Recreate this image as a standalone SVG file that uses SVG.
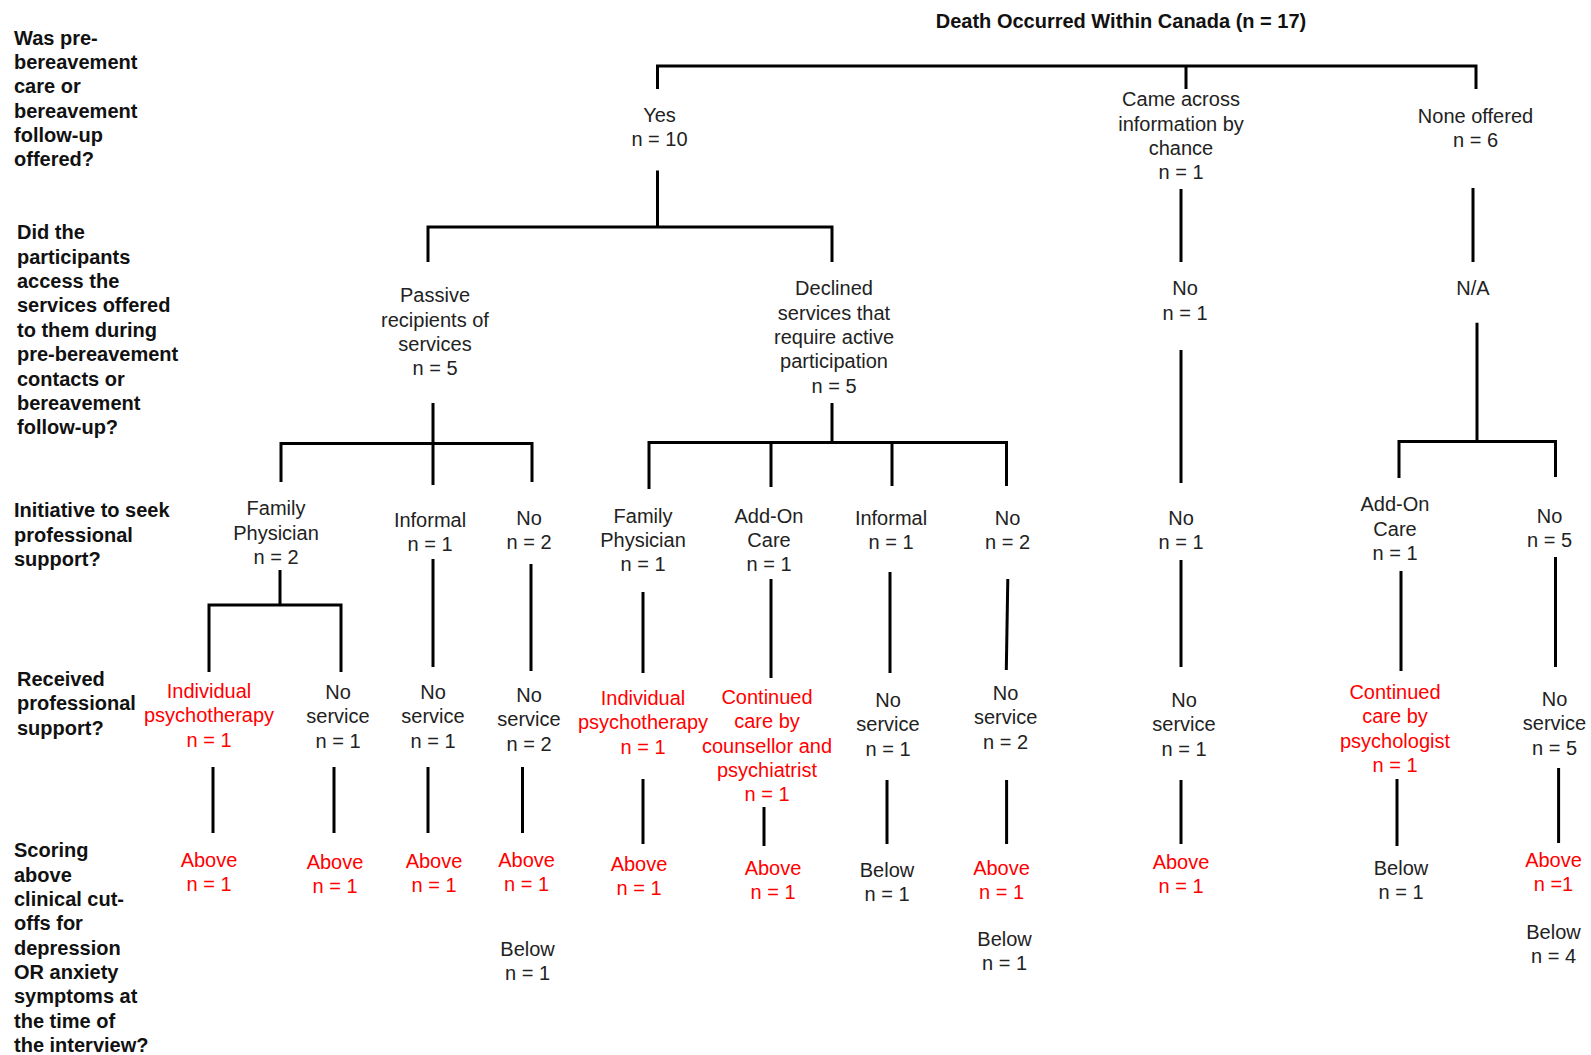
<svg xmlns="http://www.w3.org/2000/svg" width="1591" height="1055" viewBox="0 0 1591 1055">
<style>
.h{font-family:"Liberation Sans",Arial,sans-serif;font-size:20px;font-weight:bold;fill:#111}
.t{font-family:"Liberation Sans",Arial,sans-serif;font-size:20px;fill:#222;text-anchor:middle}
.r{fill:#ff0000}
.c path{stroke:#000;stroke-width:3;fill:none}
</style>
<rect width="1591" height="1055" fill="#fff"/>
<g id="title"><text class="h" x="1121" y="27.5" text-anchor="middle">Death Occurred Within Canada (n = 17)</text></g>
<g id="q1"><text class="h" x="14" y="44.5"><tspan x="14">Was pre-</tspan><tspan x="14" dy="24.35">bereavement</tspan><tspan x="14" dy="24.35">care or</tspan><tspan x="14" dy="24.35">bereavement</tspan><tspan x="14" dy="24.35">follow-up</tspan><tspan x="14" dy="24.35">offered?</tspan></text></g>
<g id="q2"><text class="h" x="17" y="239.4"><tspan x="17">Did the</tspan><tspan x="17" dy="24.35">participants</tspan><tspan x="17" dy="24.35">access the</tspan><tspan x="17" dy="24.35">services offered</tspan><tspan x="17" dy="24.35">to them during</tspan><tspan x="17" dy="24.35">pre-bereavement</tspan><tspan x="17" dy="24.35">contacts or</tspan><tspan x="17" dy="24.35">bereavement</tspan><tspan x="17" dy="24.35">follow-up?</tspan></text></g>
<g id="q3"><text class="h" x="14" y="517.4"><tspan x="14">Initiative to seek</tspan><tspan x="14" dy="24.35">professional</tspan><tspan x="14" dy="24.35">support?</tspan></text></g>
<g id="q4"><text class="h" x="17" y="685.8"><tspan x="17">Received</tspan><tspan x="17" dy="24.35">professional</tspan><tspan x="17" dy="24.35">support?</tspan></text></g>
<g id="q5"><text class="h" x="14" y="857.3"><tspan x="14">Scoring</tspan><tspan x="14" dy="24.35">above</tspan><tspan x="14" dy="24.35">clinical cut-</tspan><tspan x="14" dy="24.35">offs for</tspan><tspan x="14" dy="24.35">depression</tspan><tspan x="14" dy="24.35">OR anxiety</tspan><tspan x="14" dy="24.35">symptoms at</tspan><tspan x="14" dy="24.35">the time of</tspan><tspan x="14" dy="24.35">the interview?</tspan></text></g>

<g class="c" id="connectors">
<path d="M657.5,89 V66 H1476 V89 M1186,66 V89"/>
<path d="M657.5,170.5 V227 M428,262 V227 H832 V262"/>
<path d="M433,403 V443.5 M281,482 V443.5 H532 V482 M433,443.5 V485"/>
<path d="M832,403 V442.5 M649,489 V442.5 H1006.5 V486 M771,442.5 V487 M892,442.5 V486"/>
<path d="M1181,189 V262 M1181,350 V483 M1181,560 V667 M1181,780 V844"/>
<path d="M1473,188 V262 M1477,322.7 V441.4 M1399,478 V441.4 H1555.5 V477"/>
<path d="M1401,571 V671 M1397,779 V846 M1555.5,557 V667 M1558.6,768 V843"/>
<path d="M280,570 V605 M209,672 V605 H341 V672 M213,767 V833 M334,767 V833"/>
<path d="M433,559 V667 M428,767 V833 M531,564 V671 M522.5,767 V833"/>
<path d="M643,592 V673 M643,779 V844 M771,579 V678 M764,807 V846"/>
<path d="M890,572 V673 M887,780 V844 M1007.8,579 L1006.3,670 M1006.6,780 V844"/>
</g>

<g id="yes"><text class="t" x="659.5" y="121.7"><tspan x="659.5">Yes</tspan><tspan x="659.5" dy="24.35">n = 10</tspan></text></g>
<g id="came"><text class="t" x="1181" y="106.4"><tspan x="1181">Came across</tspan><tspan x="1181" dy="24.35">information by</tspan><tspan x="1181" dy="24.35">chance</tspan><tspan x="1181" dy="24.35">n = 1</tspan></text></g>
<g id="none"><text class="t" x="1475.5" y="122.7"><tspan x="1475.5">None offered</tspan><tspan x="1475.5" dy="24.35">n = 6</tspan></text></g>
<g id="passive"><text class="t" x="435" y="302.3"><tspan x="435">Passive</tspan><tspan x="435" dy="24.35">recipients of</tspan><tspan x="435" dy="24.35">services</tspan><tspan x="435" dy="24.35">n = 5</tspan></text></g>
<g id="declined"><text class="t" x="834" y="295.2"><tspan x="834">Declined</tspan><tspan x="834" dy="24.35">services that</tspan><tspan x="834" dy="24.35">require active</tspan><tspan x="834" dy="24.35">participation</tspan><tspan x="834" dy="24.35">n = 5</tspan></text></g>
<g id="no-came"><text class="t" x="1185" y="295.2"><tspan x="1185">No</tspan><tspan x="1185" dy="24.35">n = 1</tspan></text></g>
<g id="na"><text class="t" x="1473" y="295.2">N/A</text></g>

<g id="fp2"><text class="t" x="276" y="515.4"><tspan x="276">Family</tspan><tspan x="276" dy="24.35">Physician</tspan><tspan x="276" dy="24.35">n = 2</tspan></text></g>
<g id="inf1a"><text class="t" x="430" y="526.5"><tspan x="430">Informal</tspan><tspan x="430" dy="24.35">n = 1</tspan></text></g>
<g id="no2a"><text class="t" x="529" y="524.5"><tspan x="529">No</tspan><tspan x="529" dy="24.35">n = 2</tspan></text></g>
<g id="fp1"><text class="t" x="643" y="522.5"><tspan x="643">Family</tspan><tspan x="643" dy="24.35">Physician</tspan><tspan x="643" dy="24.35">n = 1</tspan></text></g>
<g id="addon1"><text class="t" x="769" y="522.5"><tspan x="769">Add-On</tspan><tspan x="769" dy="24.35">Care</tspan><tspan x="769" dy="24.35">n = 1</tspan></text></g>
<g id="inf1b"><text class="t" x="891" y="524.5"><tspan x="891">Informal</tspan><tspan x="891" dy="24.35">n = 1</tspan></text></g>
<g id="no2b"><text class="t" x="1007.6" y="524.5"><tspan x="1007.6">No</tspan><tspan x="1007.6" dy="24.35">n = 2</tspan></text></g>
<g id="no1c"><text class="t" x="1181" y="524.5"><tspan x="1181">No</tspan><tspan x="1181" dy="24.35">n = 1</tspan></text></g>
<g id="addon2"><text class="t" x="1395" y="511.3"><tspan x="1395">Add-On</tspan><tspan x="1395" dy="24.35">Care</tspan><tspan x="1395" dy="24.35">n = 1</tspan></text></g>
<g id="no5"><text class="t" x="1549.5" y="522.5"><tspan x="1549.5">No</tspan><tspan x="1549.5" dy="24.35">n = 5</tspan></text></g>

<g id="indiv1"><text class="t r" x="209" y="698"><tspan x="209">Individual</tspan><tspan x="209" dy="24.35">psychotherapy</tspan><tspan x="209" dy="24.35">n = 1</tspan></text></g>
<g id="nos1a"><text class="t" x="338" y="699"><tspan x="338">No</tspan><tspan x="338" dy="24.35">service</tspan><tspan x="338" dy="24.35">n = 1</tspan></text></g>
<g id="nos1b"><text class="t" x="433" y="699"><tspan x="433">No</tspan><tspan x="433" dy="24.35">service</tspan><tspan x="433" dy="24.35">n = 1</tspan></text></g>
<g id="nos2a"><text class="t" x="529" y="702"><tspan x="529">No</tspan><tspan x="529" dy="24.35">service</tspan><tspan x="529" dy="24.35">n = 2</tspan></text></g>
<g id="indiv2"><text class="t r" x="643" y="705"><tspan x="643">Individual</tspan><tspan x="643" dy="24.35">psychotherapy</tspan><tspan x="643" dy="24.35">n = 1</tspan></text></g>
<g id="contcp"><text class="t r" x="767" y="704"><tspan x="767">Continued</tspan><tspan x="767" dy="24.35">care by</tspan><tspan x="767" dy="24.35">counsellor and</tspan><tspan x="767" dy="24.35">psychiatrist</tspan><tspan x="767" dy="24.35">n = 1</tspan></text></g>
<g id="nos1c"><text class="t" x="888" y="707"><tspan x="888">No</tspan><tspan x="888" dy="24.35">service</tspan><tspan x="888" dy="24.35">n = 1</tspan></text></g>
<g id="nos2b"><text class="t" x="1005.6" y="700"><tspan x="1005.6">No</tspan><tspan x="1005.6" dy="24.35">service</tspan><tspan x="1005.6" dy="24.35">n = 2</tspan></text></g>
<g id="nos1d"><text class="t" x="1184" y="707"><tspan x="1184">No</tspan><tspan x="1184" dy="24.35">service</tspan><tspan x="1184" dy="24.35">n = 1</tspan></text></g>
<g id="contpsy"><text class="t r" x="1395" y="699"><tspan x="1395">Continued</tspan><tspan x="1395" dy="24.35">care by</tspan><tspan x="1395" dy="24.35">psychologist</tspan><tspan x="1395" dy="24.35">n = 1</tspan></text></g>
<g id="nos5"><text class="t" x="1554.5" y="706"><tspan x="1554.5">No</tspan><tspan x="1554.5" dy="24.35">service</tspan><tspan x="1554.5" dy="24.35">n = 5</tspan></text></g>

<g id="a1"><text class="t r" x="209" y="866.5"><tspan x="209">Above</tspan><tspan x="209" dy="24.35">n = 1</tspan></text></g>
<g id="a2"><text class="t r" x="335" y="868.5"><tspan x="335">Above</tspan><tspan x="335" dy="24.35">n = 1</tspan></text></g>
<g id="a3"><text class="t r" x="434" y="867.5"><tspan x="434">Above</tspan><tspan x="434" dy="24.35">n = 1</tspan></text></g>
<g id="a4"><text class="t r" x="526.6" y="866.5"><tspan x="526.6">Above</tspan><tspan x="526.6" dy="24.35">n = 1</tspan></text></g>
<g id="b4"><text class="t" x="527.6" y="955.7"><tspan x="527.6">Below</tspan><tspan x="527.6" dy="24.35">n = 1</tspan></text></g>
<g id="a5"><text class="t r" x="639" y="870.5"><tspan x="639">Above</tspan><tspan x="639" dy="24.35">n = 1</tspan></text></g>
<g id="a6"><text class="t r" x="773" y="874.6"><tspan x="773">Above</tspan><tspan x="773" dy="24.35">n = 1</tspan></text></g>
<g id="b7"><text class="t" x="887" y="876.6"><tspan x="887">Below</tspan><tspan x="887" dy="24.35">n = 1</tspan></text></g>
<g id="a8"><text class="t r" x="1001.5" y="874.6"><tspan x="1001.5">Above</tspan><tspan x="1001.5" dy="24.35">n = 1</tspan></text></g>
<g id="b8"><text class="t" x="1004.6" y="945.6"><tspan x="1004.6">Below</tspan><tspan x="1004.6" dy="24.35">n = 1</tspan></text></g>
<g id="a9"><text class="t r" x="1181" y="868.5"><tspan x="1181">Above</tspan><tspan x="1181" dy="24.35">n = 1</tspan></text></g>
<g id="b10"><text class="t" x="1401" y="874.6"><tspan x="1401">Below</tspan><tspan x="1401" dy="24.35">n = 1</tspan></text></g>
<g id="a11"><text class="t r" x="1553.5" y="866.5"><tspan x="1553.5">Above</tspan><tspan x="1553.5" dy="24.35">n =1</tspan></text></g>
<g id="b11"><text class="t" x="1553.5" y="938.5"><tspan x="1553.5">Below</tspan><tspan x="1553.5" dy="24.35">n = 4</tspan></text></g>
</svg>
